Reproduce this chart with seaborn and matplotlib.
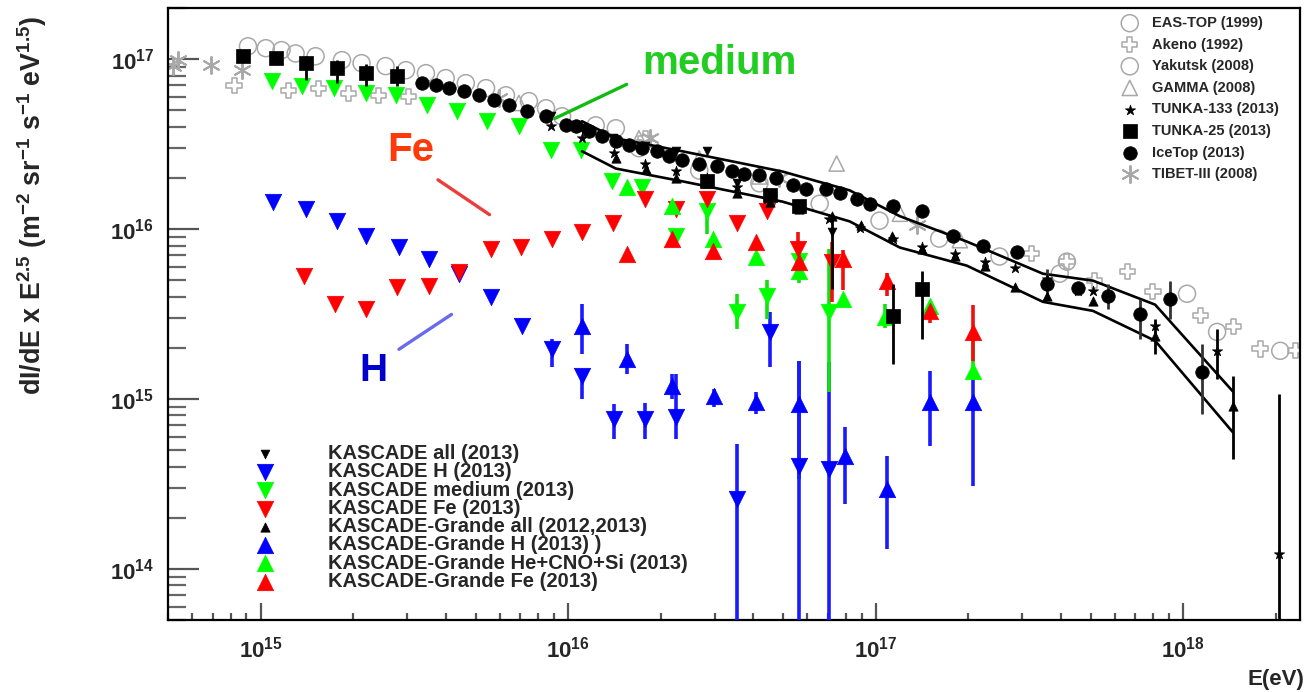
import numpy as np
import matplotlib
matplotlib.use('Agg')
import matplotlib.pyplot as plt
import seaborn as sns
from matplotlib.ticker import LogLocator, FuncFormatter, NullFormatter

# ============================================================
# data (E in eV, flux = dI/dE x E^2.5)
# ============================================================
eastop_E = [9.1e14, 1.04e15, 1.17e15, 1.3e15, 1.51e15, 1.84e15, 2.13e15, 2.55e15, 2.97e15, 3.45e15,
            4.0e15, 4.65e15, 5.41e15, 6.28e15, 7.46e15, 8.48e15, 9.56e15, 1.23e16, 1.43e16]
eastop_F = [1.19e17, 1.16e17, 1.13e17, 1.08e17, 1.04e17, 9.87e16, 9.47e16, 9.1e16, 8.61e16, 8.27e16,
            7.73e16, 7.22e16, 6.75e16, 6.13e16, 5.66e16, 5.14e16, 4.61e16, 4.08e16, 3.92e16]

akeno_E = [8.2e14, 1.23e15, 1.54e15, 1.93e15, 2.42e15, 3.03e15, 1.79e16, 3.22e17, 4.19e17, 5.16e17,
           6.58e17, 7.98e17, 1.14e18, 1.46e18, 1.78e18, 2.32e18]
akeno_F = [7.03e16, 6.56e16, 6.75e16, 6.3e16, 6.13e16, 6.0e16, 3.42e16, 7.17e15, 6.43e15, 4.97e15,
           5.61e15, 4.27e15, 3.09e15, 2.66e15, 1.97e15, 1.92e15]

yakutsk_E = [1.7e16, 2.67e16, 4.19e16, 6.58e16, 1.03e17, 1.61e17, 2.53e17, 3.97e17, 4.19e17, 1.03e18, 1.29e18, 2.07e18]
yakutsk_F = [2.99e16, 2.21e16, 1.86e16, 1.41e16, 1.12e16, 8.79e15, 6.89e15, 5.46e15, 6.43e15, 4.16e15, 2.48e15, 1.92e15]

gamma_E = [6.92e15, 1.7e16, 2.67e16, 4.19e16, 7.47e16, 1.2e17, 1.88e17]
gamma_F = [5.52e16, 3.42e16, 2.6e16, 2.04e16, 2.43e16, 1.23e16, 8.6e15]

tunka133_E = [8.81e15, 1.11e16, 1.41e16, 1.78e16, 2.25e16, 2.82e16, 3.55e16, 4.45e16, 5.65e16, 7.08e16, 8.87e16,
              1.14e17, 1.42e17, 1.81e17, 2.27e17, 2.84e17, 3.61e17, 4.55e17, 5.09e17, 8.11e17, 1.29e18, 2.05e18]
tunka133_F = [4.03e16, 3.42e16, 2.79e16, 2.43e16, 2.21e16, 1.99e16, 1.78e16, 1.51e16, 1.32e16, 1.15e16, 1.01e16,
              8.79e15, 7.89e15, 7.17e15, 6.43e15, 5.9e15, 5.1e15, 4.34e15, 4.34e15, 2.7e15, 1.92e15, 1.22e14]
tunka133_bar_E = [1.29e18, 2.05e18]
tunka133_bar_lo = [1.31e15, 5.0e13]
tunka133_bar_hi = [2.59e15, 1.07e15]

tunka25_E = [8.8e14, 1.12e15, 1.4e15, 1.77e15, 2.21e15, 2.77e15, 2.82e16, 4.52e16, 5.65e16, 1.14e17, 1.42e17]
tunka25_F = [1.04e17, 1.01e17, 9.47e16, 8.85e16, 8.27e16, 7.94e16, 1.91e16, 1.58e16, 1.36e16, 3.09e15, 4.46e15]
tunka25_bar_E = [1.4e15, 1.77e15, 2.21e15, 2.77e15, 1.14e17, 1.42e17]
tunka25_bar_lo = [7.52e16, 7.22e16, 6.93e16, 6.93e16, 1.61e15, 2.26e15]
tunka25_bar_hi = [1.04e17, 9.87e16, 9.35e16, 9.1e16, 4.77e15, 5.69e15]

icetop_E = [3.34e15, 3.72e15, 4.09e15, 4.58e15, 5.13e15, 5.74e15, 6.43e15, 7.35e15, 8.48e15, 9.84e15,
            1.06e16, 1.17e16, 1.29e16, 1.43e16, 1.58e16, 1.74e16, 1.94e16, 2.13e16, 2.35e16, 2.67e16,
            3.04e16, 3.42e16, 3.74e16, 4.19e16, 4.76e16, 5.37e16, 5.96e16, 6.92e16, 7.64e16, 8.67e16,
            9.56e16, 1.14e17, 1.42e17, 1.78e17, 2.23e17, 2.88e17, 3.61e17, 4.55e17, 5.7e17, 7.24e17,
            9.07e17, 1.15e18]
icetop_F = [7.22e16, 7.03e16, 6.75e16, 6.47e16, 6.13e16, 5.73e16, 5.35e16, 4.94e16, 4.61e16, 4.08e16,
            4.03e16, 3.76e16, 3.51e16, 3.28e16, 3.11e16, 2.99e16, 2.87e16, 2.68e16, 2.54e16, 2.43e16,
            2.34e16, 2.21e16, 2.12e16, 2.07e16, 1.99e16, 1.81e16, 1.73e16, 1.73e16, 1.62e16, 1.51e16,
            1.41e16, 1.36e16, 1.27e16, 9.16e15, 8.0e15, 7.37e15, 4.77e15, 4.52e15, 4.05e15, 3.17e15,
            3.89e15, 1.44e15]
icetop_bar_E = [3.61e17, 5.7e17, 7.24e17, 9.07e17, 1.15e18]
icetop_bar_lo = [3.89e15, 3.4e15, 2.26e15, 2.97e15, 8.16e14]
icetop_bar_hi = [5.85e15, 4.77e15, 3.89e15, 4.97e15, 2.11e15]

tibet_E = [5.2e14, 5.4e14, 6.9e14, 8.7e14, 5.96e15, 1.84e16, 4.86e16, 1.36e17]
tibet_F = [9.1e16, 9.9e16, 9.2e16, 8.6e16, 5.89e16, 3.42e16, 1.99e16, 1.05e16]

kas_all_E = [8.81e15, 1.11e16, 1.4e16, 1.78e16, 2.25e16, 2.82e16, 3.55e16, 4.45e16, 5.65e16, 7.19e16]
kas_all_F = [4.61e16, 3.92e16, 3.42e16, 3.07e16, 2.87e16, 2.87e16, 1.86e16, 1.62e16, 1.32e16, 9.67e15]
kas_all_bar_E = [7.19e16]
kas_all_bar_lo = [4.46e15]
kas_all_bar_hi = [1.19e16]

kas_h_E = [1.1e15, 1.4e15, 1.77e15, 2.21e15, 2.82e15, 3.52e15, 4.42e15, 5.61e15, 7.08e15, 8.87e15,
           1.11e16, 1.41e16, 1.78e16, 2.25e16, 3.55e16, 4.52e16, 5.65e16, 7.08e16]
kas_h_F = [1.45e16, 1.32e16, 1.12e16, 9.16e15, 7.89e15, 6.7e15, 5.46e15, 4.0e15, 2.7e15, 1.97e15,
           1.37e15, 7.63e14, 7.63e14, 7.84e14, 2.57e14, 2.48e15, 4.03e14, 3.87e14]
kas_h_bar_E = [8.87e15, 1.11e16, 1.41e16, 1.78e16, 2.25e16, 3.55e16, 4.52e16, 5.65e16, 7.08e16]
kas_h_bar_lo = [1.54e15, 1.0e15, 5.81e14, 5.81e14, 5.81e14, 5.0e13, 1.54e15, 5.0e13, 5.0e13]
kas_h_bar_hi = [2.26e15, 1.5e15, 9.35e14, 9.5e14, 1.4e15, 5.43e14, 3.26e15, 1.68e15, 1.65e15]

kas_med_E = [1.09e15, 1.36e15, 1.73e15, 2.2e15, 2.75e15, 3.47e15, 4.35e15, 5.45e15, 6.92e15, 8.81e15,
             1.1e16, 1.39e16, 1.74e16, 2.25e16, 2.82e16, 3.53e16, 4.45e16, 5.65e16, 7.08e16]
kas_med_F = [7.42e16, 6.93e16, 6.75e16, 6.3e16, 6.13e16, 5.35e16, 4.94e16, 4.31e16, 4.03e16, 2.9e16,
             2.9e16, 1.91e16, 1.78e16, 9.16e15, 1.27e16, 3.26e15, 4.05e15, 6.5e15, 3.26e15]
kas_med_bar_E = [2.82e16, 3.53e16, 4.45e16, 7.08e16]
kas_med_bar_lo = [9.4e15, 2.59e15, 2.97e15, 1.1e15]
kas_med_bar_hi = [1.36e16, 4.16e15, 5.0e15, 7.68e15]

kas_fe_E = [1.38e15, 1.75e15, 2.21e15, 2.77e15, 3.52e15, 4.42e15, 5.61e15, 7.03e15, 8.87e15, 1.11e16,
            1.4e16, 1.78e16, 2.25e16, 2.82e16, 3.55e16, 4.45e16, 5.58e16, 7.19e16]
kas_fe_F = [5.32e15, 3.63e15, 3.4e15, 4.58e15, 4.64e15, 5.61e15, 7.68e15, 7.89e15, 8.79e15, 9.67e15,
            1.08e16, 1.51e16, 1.32e16, 1.51e16, 1.08e16, 1.27e16, 7.68e15, 6.43e15]
kas_fe_bar_E = [5.58e16, 7.19e16]
kas_fe_bar_lo = [5.46e15, 3.73e15]
kas_fe_bar_hi = [9.67e15, 8.4e15]

kg_all_E = [1.43e16, 1.79e16, 2.25e16, 2.82e16, 3.53e16, 4.52e16, 5.65e16, 7.19e16, 8.99e16, 1.13e17,
            1.42e17, 1.81e17, 2.27e17, 2.84e17, 3.61e17, 5.09e17, 8.11e17, 1.45e18]
kg_all_F = [2.61e16, 2.27e16, 1.99e16, 1.86e16, 1.62e16, 1.45e16, 1.32e16, 1.2e16, 1.05e16, 9.16e15,
            7.68e15, 6.98e15, 6.09e15, 4.58e15, 4.05e15, 3.78e15, 2.35e15, 9.1e14]
kg_all_bar_E = [8.11e17, 1.45e18]
kg_all_bar_lo = [1.84e15, 4.43e14]
kg_all_bar_hi = [2.97e15, 1.37e15]

kg_h_E = [1.11e16, 1.56e16, 2.17e16, 2.99e16, 4.09e16, 5.65e16, 7.93e16, 1.09e17, 1.5e17, 2.07e17]
kg_h_F = [2.7e15, 1.72e15, 1.19e15, 1.04e15, 9.6e14, 9.35e14, 4.61e14, 2.94e14, 9.6e14, 9.6e14]
kg_h_bar_lo = [1.84e15, 1.4e15, 1.0e15, 9.0e14, 8.16e14, 3.38e14, 2.4e14, 1.3e14, 5.28e14, 3.07e14]
kg_h_bar_hi = [3.63e15, 2.11e15, 1.4e15, 1.15e15, 1.1e15, 1.68e15, 6.84e14, 4.61e14, 1.46e15, 1.5e15]

kg_med_E = [1.55e16, 2.17e16, 2.95e16, 4.09e16, 5.65e16, 7.81e16, 1.07e17, 1.5e17, 2.07e17]
kg_med_F = [1.78e16, 1.36e16, 8.79e15, 6.89e15, 5.69e15, 3.89e15, 3.05e15, 3.54e15, 1.46e15]
kg_med_bar_E = [5.65e16, 1.07e17, 2.07e17]
kg_med_bar_lo = [4.8e15, 2.6e15, 1.4e15]
kg_med_bar_hi = [6.9e15, 3.6e15, 2.5e15]

kg_fe_E = [1.56e16, 2.17e16, 2.95e16, 4.09e16, 5.65e16, 7.81e16, 1.09e17, 1.5e17, 2.07e17]
kg_fe_F = [7.17e15, 8.79e15, 7.47e15, 8.44e15, 6.43e15, 6.7e15, 4.97e15, 3.3e15, 2.48e15]
kg_fe_bar_E = [7.81e16, 1.09e17, 1.5e17, 2.07e17]
kg_fe_bar_lo = [4.4e15, 4.05e15, 2.8e15, 1.68e15]
kg_fe_bar_hi = [7.5e15, 5.5e15, 3.7e15, 3.59e15]

# KASCADE-Grande all-particle band
band_E = [1.11e16, 1.43e16, 2.35e16, 4.98e16, 8.23e16, 1.2e17, 1.98e17, 3.5e17, 5.09e17, 8.11e17, 1.45e18]
band_upper = [4.31e16, 3.42e16, 2.87e16, 2.18e16, 1.69e16, 1.19e16, 8.44e15, 5.46e15, 4.97e15, 3.59e15, 1.11e15]
band_lower = [2.87e16, 2.27e16, 1.91e16, 1.45e16, 1.11e16, 7.78e15, 6.09e15, 3.73e15, 3.3e15, 2.2e15, 6.38e14]

# ============================================================
# style
# ============================================================
sns.set_theme(style='white')
plt.rcParams['font.family'] = ['Liberation Sans', 'DejaVu Sans']
plt.rcParams['font.weight'] = 'bold'
plt.rcParams['axes.labelweight'] = 'bold'
plt.rcParams['mathtext.fontset'] = 'custom'
plt.rcParams['mathtext.rm'] = 'Liberation Sans:bold'
plt.rcParams['mathtext.bf'] = 'Liberation Sans:bold'
plt.rcParams['mathtext.it'] = 'Liberation Sans:bold'

BLUE, GREEN, RED = '#0000ff', '#00ff00', '#ff0000'
GREY = '#a8a8a8'

fig = plt.figure(figsize=(13.11, 6.92), dpi=100)
ax = fig.add_axes([168 / 1311, 72 / 692, 1132 / 1311, 612 / 692])
ax.set_xscale('log')
ax.set_yscale('log')


def open_pts(E, F, marker, size, label, color=GREY, lw=1.1):
    sns.scatterplot(x=E, y=F, marker=marker, s=size, facecolor='none', edgecolor=color,
                    linewidth=lw, label=label, ax=ax, zorder=2, legend=False)


def filled_pts(E, F, marker, size, color, label, z=4):
    sns.scatterplot(x=E, y=F, marker=marker, s=size, color=color, edgecolor=color,
                    linewidth=0.5, label=label, ax=ax, zorder=z, legend=False)


def bars(E, lo, hi, color, lw=2.6, z=3):
    ax.vlines(E, lo, hi, colors=color, linewidth=lw, zorder=z)


# grey reference experiments
open_pts(eastop_E, eastop_F, 'o', 150, 'EAS-TOP (1999)')
open_pts(akeno_E, akeno_F, 'P', 120, 'Akeno (1992)')
open_pts(yakutsk_E, yakutsk_F, 'o', 150, 'Yakutsk (2008)')
open_pts(gamma_E, gamma_F, '^', 120, 'GAMMA (2008)')
sns.scatterplot(x=tibet_E, y=tibet_F, marker=(6, 2, 0), s=150, color=GREY, linewidth=1.4,
                label='TIBET-III (2008)', ax=ax, zorder=2, legend=False)

# KASCADE / KASCADE-Grande components
bars(kas_h_bar_E, kas_h_bar_lo, kas_h_bar_hi, '#1a1aff')
bars(kg_h_E, kg_h_bar_lo, kg_h_bar_hi, '#1a1aff')
bars(kas_med_bar_E, kas_med_bar_lo, kas_med_bar_hi, '#10e010')
bars(kg_med_bar_E, kg_med_bar_lo, kg_med_bar_hi, '#10e010')
bars(kas_fe_bar_E, kas_fe_bar_lo, kas_fe_bar_hi, '#f01010')
bars(kg_fe_bar_E, kg_fe_bar_lo, kg_fe_bar_hi, '#f01010')

filled_pts(kas_h_E, kas_h_F, 'v', 140, BLUE, 'KASCADE H (2013)')
filled_pts(kas_med_E, kas_med_F, 'v', 140, GREEN, 'KASCADE medium (2013)')
filled_pts(kas_fe_E, kas_fe_F, 'v', 140, RED, 'KASCADE Fe (2013)')
filled_pts(kg_h_E, kg_h_F, '^', 140, BLUE, 'KASCADE-Grande H (2013) )')
filled_pts(kg_med_E, kg_med_F, '^', 140, GREEN, 'KASCADE-Grande He+CNO+Si (2013)')
filled_pts(kg_fe_E, kg_fe_F, '^', 140, RED, 'KASCADE-Grande Fe (2013)')

# band
sns.lineplot(x=band_E, y=band_upper, color='black', linewidth=1.9, estimator=None, sort=False, ax=ax, zorder=5)
sns.lineplot(x=band_E, y=band_lower, color='black', linewidth=1.9, estimator=None, sort=False, ax=ax, zorder=5)

# black experiments
bars(tunka133_bar_E, tunka133_bar_lo, tunka133_bar_hi, 'black', 2.0, 5)
bars(tunka25_bar_E, tunka25_bar_lo, tunka25_bar_hi, 'black', 2.0, 5)
bars(icetop_bar_E, icetop_bar_lo, icetop_bar_hi, '#333333', 2.0, 5)
bars(kas_all_bar_E, kas_all_bar_lo, kas_all_bar_hi, 'black', 2.0, 5)
bars(kg_all_bar_E, kg_all_bar_lo, kg_all_bar_hi, 'black', 2.0, 5)

filled_pts(tunka133_E, tunka133_F, '*', 60, 'black', 'TUNKA-133 (2013)', 6)
filled_pts(tunka25_E, tunka25_F, 's', 90, 'black', 'TUNKA-25 (2013)', 6)
filled_pts(icetop_E, icetop_F, 'o', 95, 'black', 'IceTop (2013)', 6)
filled_pts(kas_all_E, kas_all_F, 'v', 40, 'black', 'KASCADE all (2013)', 6)
filled_pts(kg_all_E, kg_all_F, '^', 45, 'black', 'KASCADE-Grande all (2012,2013)', 6)

# labels on the plot
ax.annotate('', xy=(8.87e15, 4.4e16), xytext=(1.58e16, 7.22e16),
            arrowprops=dict(arrowstyle='-', color='#11bb11', lw=2.4), zorder=8)
ax.text(3.1e16, 9.5e16, 'medium', color='#22cc22', fontsize=29, ha='center', va='center', zorder=8)
ax.annotate('', xy=(3.71e15, 1.99e16), xytext=(5.65e15, 1.19e16),
            arrowprops=dict(arrowstyle='-', color='#ee3b3b', lw=2.4), zorder=8)
ax.text(3.08e15, 2.9e16, 'Fe', color='#ff3a0a', fontsize=29, ha='center', va='center', zorder=8)
ax.annotate('', xy=(2.77e15, 1.92e15), xytext=(4.25e15, 3.21e15),
            arrowprops=dict(arrowstyle='-', color='#6a6aee', lw=2.4), zorder=8)
ax.text(2.33e15, 1.46e15, 'H', color='#0000cc', fontsize=28, ha='center', va='center', zorder=8)

# axes
ax.set_xlim(5e14, 2.4e18)
ax.set_ylim(5e13, 2e17)
for s in ax.spines.values():
    s.set_color('black')
    s.set_linewidth(1.6)

ax.xaxis.set_major_locator(LogLocator(base=10, numticks=12))
ax.yaxis.set_major_locator(LogLocator(base=10, numticks=12))
ax.xaxis.set_minor_locator(LogLocator(base=10, subs=np.arange(2, 10) * 1.0, numticks=100))
ax.yaxis.set_minor_locator(LogLocator(base=10, subs=np.arange(2, 10) * 1.0, numticks=100))
fmt = FuncFormatter(lambda v, p: r'$\mathbf{10^{%d}}$' % int(round(np.log10(v))))
ax.xaxis.set_major_formatter(fmt)
ax.yaxis.set_major_formatter(fmt)
ax.xaxis.set_minor_formatter(NullFormatter())
ax.yaxis.set_minor_formatter(NullFormatter())

ax.tick_params(axis='y', which='major', direction='in', length=22, width=1.6, color='#555555',
               labelsize=16, pad=10, left=True, right=False)
ax.tick_params(axis='y', which='minor', direction='in', length=13, width=1.6, color='#666666',
               left=True, right=False)
ax.tick_params(axis='x', which='major', direction='in', length=12, width=1.6, color='#555555',
               labelsize=16, pad=12, bottom=True, top=False)
ax.tick_params(axis='x', which='minor', direction='in', length=5, width=1.6, color='#555555',
               bottom=True, top=False)

ax.set_ylabel(r'dI/dE x E$^{\mathbf{2.5}}$ (m$^{\mathbf{-2}}$ sr$^{\mathbf{-1}}$ s$^{\mathbf{-1}}$ eV$^{\mathbf{1.5}}$)',
              fontsize=19.3, fontweight='bold')
ax.yaxis.set_label_coords(-0.120, 0.678)
ax.yaxis.label.set_va('center')
ax.set_xlabel('E(eV)', fontsize=16, fontweight='bold')
ax.xaxis.set_label_coords(1.004, -0.080)
ax.xaxis.label.set_ha('right')

# legends
handles, labels = ax.get_legend_handles_labels()
lookup = dict(zip(labels, handles))
top_names = ['EAS-TOP (1999)', 'Akeno (1992)', 'Yakutsk (2008)', 'GAMMA (2008)',
             'TUNKA-133 (2013)', 'TUNKA-25 (2013)', 'IceTop (2013)', 'TIBET-III (2008)']
low_names = ['KASCADE all (2013)', 'KASCADE H (2013)', 'KASCADE medium (2013)', 'KASCADE Fe (2013)',
             'KASCADE-Grande all (2012,2013)', 'KASCADE-Grande H (2013) )',
             'KASCADE-Grande He+CNO+Si (2013)', 'KASCADE-Grande Fe (2013)']

leg1 = ax.legend([lookup[n] for n in top_names], top_names, loc='upper left',
                 bbox_to_anchor=(1121 / 1311, 1 - 16 / 692), bbox_transform=fig.transFigure,
                 frameon=False, fontsize=10.5, borderpad=0, borderaxespad=0,
                 handlelength=1.2, handletextpad=0.9, labelspacing=0.52)
ax.add_artist(leg1)
ax.legend([lookup[n] for n in low_names], low_names, loc='upper left',
          bbox_to_anchor=(245 / 1311, 1 - 444 / 692), bbox_transform=fig.transFigure,
          frameon=False, fontsize=14.5, borderpad=0, borderaxespad=0,
          handlelength=2.0, handletextpad=2.14, labelspacing=-0.035)

fig.savefig('out.png', dpi=100)
